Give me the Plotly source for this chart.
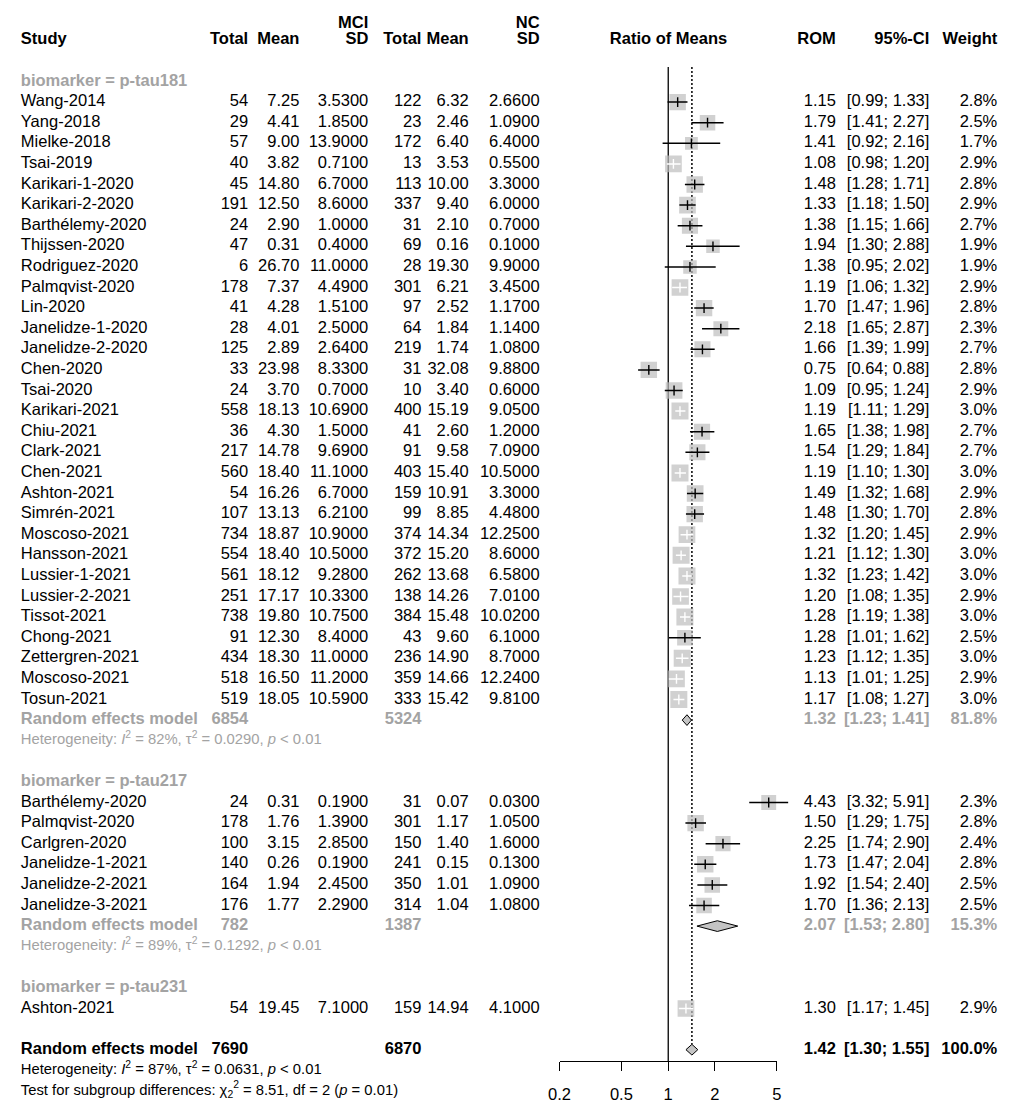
import math
import plotly.graph_objects as go

# ---------------- data ----------------
study = ["Wang-2014", "Yang-2018", "Mielke-2018", "Tsai-2019", "Karikari-1-2020", "Karikari-2-2020",
         "Barthélemy-2020", "Thijssen-2020", "Rodriguez-2020", "Palmqvist-2020", "Lin-2020",
         "Janelidze-1-2020", "Janelidze-2-2020", "Chen-2020", "Tsai-2020", "Karikari-2021", "Chiu-2021",
         "Clark-2021", "Chen-2021", "Ashton-2021", "Simrén-2021", "Moscoso-2021", "Hansson-2021",
         "Lussier-1-2021", "Lussier-2-2021", "Tissot-2021", "Chong-2021", "Zettergren-2021",
         "Moscoso-2021", "Tosun-2021",
         "Barthélemy-2020", "Palmqvist-2020", "Carlgren-2020", "Janelidze-1-2021", "Janelidze-2-2021",
         "Janelidze-3-2021",
         "Ashton-2021"]
group = ["p-tau181"] * 30 + ["p-tau217"] * 6 + ["p-tau231"]
mci_total = [54, 29, 57, 40, 45, 191, 24, 47, 6, 178, 41, 28, 125, 33, 24, 558, 36, 217, 560, 54, 107,
             734, 554, 561, 251, 738, 91, 434, 518, 519,
             24, 178, 100, 140, 164, 176,
             54]
mci_mean = [7.25, 4.41, 9.00, 3.82, 14.80, 12.50, 2.90, 0.31, 26.70, 7.37, 4.28, 4.01, 2.89, 23.98, 3.70,
            18.13, 4.30, 14.78, 18.40, 16.26, 13.13, 18.87, 18.40, 18.12, 17.17, 19.80, 12.30, 18.30,
            16.50, 18.05,
            0.31, 1.76, 3.15, 0.26, 1.94, 1.77,
            19.45]
mci_sd = [3.53, 1.85, 13.90, 0.71, 6.70, 8.60, 1.00, 0.40, 11.00, 4.49, 1.51, 2.50, 2.64, 8.33, 0.70,
          10.69, 1.50, 9.69, 11.10, 6.70, 6.21, 10.90, 10.50, 9.28, 10.33, 10.75, 8.40, 11.00, 11.20, 10.59,
          0.19, 1.39, 2.85, 0.19, 2.45, 2.29,
          7.10]
nc_total = [122, 23, 172, 13, 113, 337, 31, 69, 28, 301, 97, 64, 219, 31, 10, 400, 41, 91, 403, 159, 99,
            374, 372, 262, 138, 384, 43, 236, 359, 333,
            31, 301, 150, 241, 350, 314,
            159]
nc_mean = [6.32, 2.46, 6.40, 3.53, 10.00, 9.40, 2.10, 0.16, 19.30, 6.21, 2.52, 1.84, 1.74, 32.08, 3.40,
           15.19, 2.60, 9.58, 15.40, 10.91, 8.85, 14.34, 15.20, 13.68, 14.26, 15.48, 9.60, 14.90, 14.66,
           15.42,
           0.07, 1.17, 1.40, 0.15, 1.01, 1.04,
           14.94]
nc_sd = [2.66, 1.09, 6.40, 0.55, 3.30, 6.00, 0.70, 0.10, 9.90, 3.45, 1.17, 1.14, 1.08, 9.88, 0.60, 9.05,
         1.20, 7.09, 10.50, 3.30, 4.48, 12.25, 8.60, 6.58, 7.01, 10.02, 6.10, 8.70, 12.24, 9.81,
         0.03, 1.05, 1.60, 0.13, 1.09, 1.08,
         4.10]
rom = [1.15, 1.79, 1.41, 1.08, 1.48, 1.33, 1.38, 1.94, 1.38, 1.19, 1.70, 2.18, 1.66, 0.75, 1.09, 1.19,
       1.65, 1.54, 1.19, 1.49, 1.48, 1.32, 1.21, 1.32, 1.20, 1.28, 1.28, 1.23, 1.13, 1.17,
       4.43, 1.50, 2.25, 1.73, 1.92, 1.70,
       1.30]
ci_low = [0.99, 1.41, 0.92, 0.98, 1.28, 1.18, 1.15, 1.30, 0.95, 1.06, 1.47, 1.65, 1.39, 0.64, 0.95, 1.11,
          1.38, 1.29, 1.10, 1.32, 1.30, 1.20, 1.12, 1.23, 1.08, 1.19, 1.01, 1.12, 1.01, 1.08,
          3.32, 1.29, 1.74, 1.47, 1.54, 1.36,
          1.17]
ci_high = [1.33, 2.27, 2.16, 1.20, 1.71, 1.50, 1.66, 2.88, 2.02, 1.32, 1.96, 2.87, 1.99, 0.88, 1.24, 1.29,
           1.98, 1.84, 1.30, 1.68, 1.70, 1.45, 1.30, 1.42, 1.35, 1.38, 1.62, 1.35, 1.25, 1.27,
           5.91, 1.75, 2.90, 2.04, 2.40, 2.13,
           1.45]
weight = [2.8, 2.5, 1.7, 2.9, 2.8, 2.9, 2.7, 1.9, 1.9, 2.9, 2.8, 2.3, 2.7, 2.8, 2.9, 3.0, 2.7, 2.7, 3.0,
          2.9, 2.8, 2.9, 3.0, 3.0, 2.9, 3.0, 2.5, 3.0, 2.9, 3.0,
          2.3, 2.8, 2.4, 2.8, 2.5, 2.5,
          2.9]

groups = ["p-tau181", "p-tau217", "p-tau231"]
grp_mci_total = [6854, 782, None]
grp_nc_total = [5324, 1387, None]
grp_rom = [1.32, 2.07, None]
grp_low = [1.23, 1.53, None]
grp_high = [1.41, 2.80, None]
grp_weight = [81.8, 15.3, None]
grp_i2 = ["82%", "89%", None]
grp_tau2 = ["0.0290", "0.1292", None]
grp_p = ["< 0.01", "< 0.01", None]

overall_mci_total = 7690
overall_nc_total = 6870
overall_rom = 1.42
overall_low = 1.30
overall_high = 1.55
overall_weight = 100.0
overall_i2 = "87%"
overall_tau2 = "0.0631"
overall_p = "< 0.01"
test_chi2 = 8.51
test_df = 2
test_p = "0.01"

axis_tickvals = [0.2, 0.5, 1, 2, 5]
axis_ticktext = ["0.2", "0.5", "1", "2", "5"]

# ---------------- layout constants ----------------
W, H = 1021, 1112
ROW0, ROWH = 81.5, 20.6          # pixel y of row 0 and row height
X1PX, PXDEC = 667.7, 157.9       # pixel x of ratio 1 and pixels per decade
FONT = "Liberation Sans, Arial, sans-serif"
GREY = "#A3A3A3"
SQCOL = "#BEBEBE"
FS, FS_SMALL = 16.5, 14.8

cols = {
    "study": (10, "L"), "mci_total": (241, "R"), "mci_mean": (293, "R"), "mci_sd": (363, "R"),
    "nc_total": (417, "R"), "nc_mean": (465, "R"), "nc_sd": (537, "R"),
    "rom": (838, "R"), "ci": (933, "R"), "weight": (1002, "R"), "forest": (668, "C"),
}
styles = {
    "head": ("black", "bold", FS), "study": ("black", "normal", FS),
    "grp": (GREY, "bold", FS), "grphet": (GREY, "normal", FS_SMALL),
    "tot": ("black", "bold", FS), "het": ("black", "normal", FS_SMALL),
}

buckets = {}


def add(col, row, text, style):
    key = (col, style)
    buckets.setdefault(key, ([], []))
    buckets[key][0].append(row)
    buckets[key][1].append(text)


def fmt_ci(lo, hi):
    return f"[{lo:.2f}; {hi:.2f}]"


def het_text(i2, tau2, p):
    p = p.replace("<", "&lt;")
    return f"Heterogeneity: <i>I</i><sup>2</sup> = {i2}, τ<sup>2</sup> = {tau2}, <i>p</i> {p}"


# headers
for c, t in [("study", "Study"), ("mci_total", "Total"), ("mci_mean", "Mean"), ("mci_sd", "SD"),
             ("nc_total", "Total"), ("nc_mean", "Mean"), ("nc_sd", "SD"), ("forest", "Ratio of Means"),
             ("rom", "ROM"), ("ci", "95%-CI"), ("weight", "Weight")]:
    add(c, -2, t, "head")
add("mci_sd", -2.8, "MCI", "head")
add("nc_sd", -2.8, "NC", "head")

st_rows, diamonds = [], []
row = 0
for gi, g in enumerate(groups):
    add("study", row, f"biomarker = {g}", "grp")
    row += 1
    idx = [i for i, gg in enumerate(group) if gg == g]
    for i in idx:
        add("study", row, study[i], "study")
        add("mci_total", row, str(mci_total[i]), "study")
        add("mci_mean", row, f"{mci_mean[i]:.2f}", "study")
        add("mci_sd", row, f"{mci_sd[i]:.4f}", "study")
        add("nc_total", row, str(nc_total[i]), "study")
        add("nc_mean", row, f"{nc_mean[i]:.2f}", "study")
        add("nc_sd", row, f"{nc_sd[i]:.4f}", "study")
        add("rom", row, f"{rom[i]:.2f}", "study")
        add("ci", row, fmt_ci(ci_low[i], ci_high[i]), "study")
        add("weight", row, f"{weight[i]:.1f}%", "study")
        st_rows.append((row, i))
        row += 1
    if grp_rom[gi] is not None:
        add("study", row, "Random effects model", "grp")
        add("mci_total", row, str(grp_mci_total[gi]), "grp")
        add("nc_total", row, str(grp_nc_total[gi]), "grp")
        add("rom", row, f"{grp_rom[gi]:.2f}", "grp")
        add("ci", row, fmt_ci(grp_low[gi], grp_high[gi]), "grp")
        add("weight", row, f"{grp_weight[gi]:.1f}%", "grp")
        diamonds.append((row, grp_rom[gi], grp_low[gi], grp_high[gi]))
        row += 1
        add("study", row, het_text(grp_i2[gi], grp_tau2[gi], grp_p[gi]), "grphet")
        row += 1
    row += 1  # blank

overall_row = row
add("study", row, "Random effects model", "tot")
add("mci_total", row, str(overall_mci_total), "tot")
add("nc_total", row, str(overall_nc_total), "tot")
add("rom", row, f"{overall_rom:.2f}", "tot")
add("ci", row, fmt_ci(overall_low, overall_high), "tot")
add("weight", row, f"{overall_weight:.1f}%", "tot")
diamonds.append((row, overall_rom, overall_low, overall_high))
add("study", row + 1, het_text(overall_i2, overall_tau2, overall_p), "het")
add("study", row + 2,
    f"Test for subgroup differences: χ<sub>{test_df}</sub><sup>2</sup> = {test_chi2:.2f}, "
    f"df = {test_df} (<i>p</i> = {test_p})", "het")

# ---------------- figure ----------------
fig = go.Figure()

axis_row = (1061 - ROW0) / ROWH
# reference lines
fig.add_trace(go.Scatter(x=[1, 1], y=[-0.7, axis_row], mode="lines", xaxis="x2", yaxis="y",
                         line=dict(color="black", width=1.3), hoverinfo="skip"))
fig.add_trace(go.Scatter(x=[overall_rom, overall_rom], y=[-0.7, overall_row - 0.26], mode="lines",
                         xaxis="x2", yaxis="y", line=dict(color="black", width=1.5, dash="2px,2px"),
                         hoverinfo="skip"))

# squares
sides = [17 * math.sqrt(weight[i] / 3.0) for _, i in st_rows]
fig.add_trace(go.Scatter(x=[rom[i] for _, i in st_rows], y=[r for r, _ in st_rows], mode="markers",
                         xaxis="x2", yaxis="y",
                         marker=dict(symbol="square", size=sides, color=SQCOL, line=dict(width=0)),
                         hoverinfo="skip"))

# CI lines and estimate ticks
seg = {"black": ([], []), "white": ([], [])}
tick = {"black": ([], []), "white": ([], [])}
for (r, i), s in zip(st_rows, sides):
    dl = math.log10(rom[i] / ci_low[i]) * PXDEC
    du = math.log10(ci_high[i] / rom[i]) * PXDEC
    c = "white" if max(dl, du) < 0.975 * s / 2 else "black"
    seg[c][0].extend([ci_low[i], ci_high[i], None])
    seg[c][1].extend([r, r, None])
    tick[c][0].append(rom[i])
    tick[c][1].append(r)
for c in ("black", "white"):
    fig.add_trace(go.Scatter(x=seg[c][0], y=seg[c][1], mode="lines", xaxis="x2", yaxis="y",
                             line=dict(color=c, width=1.5), hoverinfo="skip"))
    fig.add_trace(go.Scatter(x=tick[c][0], y=tick[c][1], mode="markers", xaxis="x2", yaxis="y",
                             marker=dict(symbol="line-ns", size=7, line=dict(color=c, width=1.4)),
                             hoverinfo="skip"))

# diamonds
dx, dy = [], []
for r, e, lo, hi in diamonds:
    dx.extend([lo, e, hi, e, lo, None])
    dy.extend([r, r - 0.26, r, r + 0.26, r, None])
fig.add_trace(go.Scatter(x=dx, y=dy, mode="lines", fill="toself", fillcolor="#C4C4C4",
                         xaxis="x2", yaxis="y", line=dict(color="black", width=1), hoverinfo="skip"))

# text columns
pos = {"L": "middle right", "R": "middle left", "C": "middle center"}
for (col, style), (ys, ts) in buckets.items():
    x, a = cols[col]
    color, wt, size = styles[style]
    fig.add_trace(go.Scatter(x=[x] * len(ys), y=ys, text=ts, mode="text", textposition=pos[a],
                             xaxis="x", yaxis="y", cliponaxis=False, marker=dict(size=0),
                             textfont=dict(family=FONT, size=size, color=color, weight=wt),
                             hoverinfo="skip"))

# empty trace for the axis subplot
fig.add_trace(go.Scatter(x=[], y=[], xaxis="x3", yaxis="y2", hoverinfo="skip"))

ymax = (H - ROW0) / ROWH
ymin = -ROW0 / ROWH
fig.update_layout(
    width=W, height=H, margin=dict(l=0, r=0, t=0, b=0),
    paper_bgcolor="white", plot_bgcolor="rgba(0,0,0,0)", showlegend=False,
    font=dict(family=FONT, size=FS, color="black"),
    xaxis=dict(domain=[0, 1], range=[0, W], visible=False, fixedrange=True),
    yaxis=dict(domain=[0, 1], range=[ymax, ymin], visible=False, fixedrange=True),
    xaxis2=dict(domain=[540 / W, 820 / W], type="log", anchor="y",
                range=[(540 - X1PX) / PXDEC, (820 - X1PX) / PXDEC], visible=False, fixedrange=True),
    xaxis3=dict(domain=[557.3 / W, 778 / W], type="log", anchor="y2",
                range=[math.log10(0.2), math.log10(5)], tickvals=axis_tickvals, ticktext=axis_ticktext,
                ticks="outside", ticklen=9, tickwidth=1.3, tickcolor="black",
                showline=True, linewidth=1.3, linecolor="black", showgrid=False, zeroline=False,
                tickfont=dict(family=FONT, size=FS, color="black"), ticklabelstandoff=9,
                fixedrange=True),
    yaxis2=dict(domain=[(H - 1061) / H, 0.2], anchor="x3", visible=False, range=[0, 1], fixedrange=True),
)

fig.write_html("out.html", config={"displayModeBar": False},
               post_script="document.body.style.margin='0px';")
